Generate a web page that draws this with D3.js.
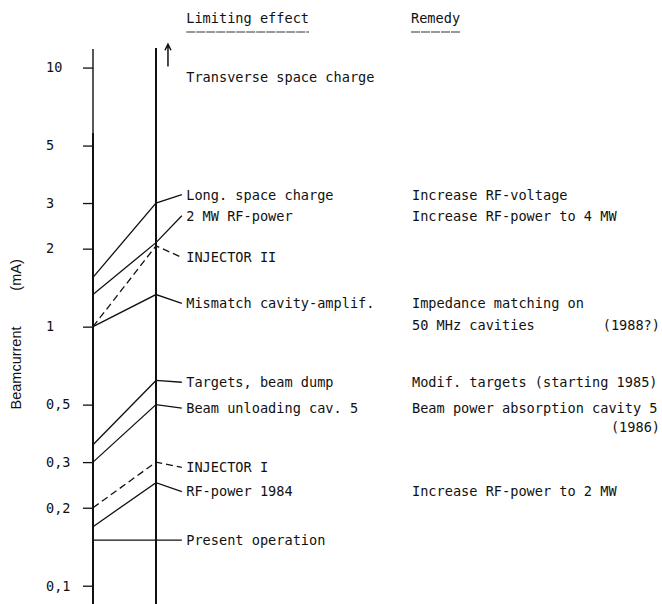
<!DOCTYPE html>
<html>
<head>
<meta charset="utf-8">
<script src="https://cdn.jsdelivr.net/npm/d3@7"></script>
<style>
  body { margin: 0; background: #fff; }
  text { fill: #111; }
</style>
</head>
<body>
<div id="chart"></div>
<script>
// limiting effects: current now (left column) -> current reached (right column)
const limits = ["Long. space charge", "2 MW RF-power", "INJECTOR II", "Mismatch cavity-amplif.",
  "Targets, beam dump", "Beam unloading cav. 5", "INJECTOR I", "RF-power 1984", "Present operation"];
const presentValues = [1.55, 1.33, 1.0, 1.0, 0.35, 0.3, 0.2, 0.169, 0.15];
const limitValues = [3.0, 2.11, 2.05, 1.33, 0.62, 0.5, 0.3, 0.25, 0.15];
const labelValues = [3.23, 2.68, 1.85, 1.23, 0.61, 0.485, 0.286, 0.231, 0.15];
const dashed = [false, false, true, false, false, false, true, false, false];

const remedies = ["Increase RF-voltage", "Increase RF-power to 4 MW", "Impedance matching on",
  "50 MHz cavities", "Modif. targets (starting 1985)", "Beam power absorption cavity 5",
  "Increase RF-power to 2 MW"];
const remedyValues = [3.23, 2.68, 1.23, 1.01, 0.61, 0.485, 0.231];
const remedyYears = ["(1988?)", "(1986)"];
const yearValues = [1.01, 0.41];

const tickValues = [0.1, 0.2, 0.3, 0.5, 1, 2, 3, 5, 10];
const tickLabels = ["0,1", "0,2", "0,3", "0,5", "1", "2", "3", "5", "10"];

const width = 662;
const height = 604;
const font = "'DejaVu Sans Mono', 'Liberation Mono', monospace";

const svg = d3.select("#chart")
  .append("svg")
  .attr("width", width)
  .attr("height", height);

const y = d3.scaleLog().domain([0.085, 11.9]).range([604, 48]);
// 0 = present operation column, 1 = limit column
const x = d3.scaleLinear().domain([0, 1]).range([93, 156]);
const labelX = x(1.48);
const remedyX = 412;

// axis with ticks
const axis = svg.append("g")
  .attr("transform", `translate(${x(0)},0)`)
  .call(d3.axisLeft(y).tickValues(tickValues).tickSize(10).tickSizeOuter(0)
    .tickFormat((d, i) => tickLabels[i]));
axis.select(".domain").remove();
axis.selectAll(".tick line").attr("stroke", "#111").attr("stroke-width", 1.3);
axis.selectAll(".tick text")
  .attr("x", -47)
  .attr("text-anchor", "start")
  .style("font-family", font)
  .style("font-size", "13.5px")
  .style("fill", "#111");

// the two vertical columns
svg.append("line")
  .attr("x1", x(0)).attr("x2", x(0))
  .attr("y1", y(11.8)).attr("y2", y(5.6))
  .attr("stroke", "#111").attr("stroke-width", 1.4);
svg.append("line")
  .attr("x1", x(0)).attr("x2", x(0))
  .attr("y1", y(5.6)).attr("y2", height)
  .attr("stroke", "#111").attr("stroke-width", 2);
svg.append("line")
  .attr("x1", x(1)).attr("x2", x(1))
  .attr("y1", y(11.9)).attr("y2", height)
  .attr("stroke", "#111").attr("stroke-width", 2);

// upward arrow for transverse space charge
const ax = x(1.19), aTop = y(12.3), aBot = y(10.1);
svg.append("path")
  .attr("d", `M${ax},${aBot}V${aTop}M${ax - 3},${aTop + 6}L${ax},${aTop}L${ax + 3},${aTop + 6}`)
  .attr("fill", "none")
  .attr("stroke", "#111")
  .attr("stroke-width", 1.5);

const line = d3.line().x(d => x(d[0])).y(d => y(d[1]));

const rows = limits.map((name, i) => ({
  name,
  pts: [[0, presentValues[i]], [1, limitValues[i]], [1.41, labelValues[i]]],
  label: labelValues[i],
  dashed: dashed[i]
}));

svg.append("g")
  .selectAll("path")
  .data(rows)
  .enter()
  .append("path")
  .attr("d", d => line(d.pts))
  .attr("fill", "none")
  .attr("stroke", "#111")
  .attr("stroke-width", 1.3)
  .attr("stroke-dasharray", d => d.dashed ? "7,4" : null);

const textStyle = sel => sel
  .style("font-family", font)
  .style("font-size", "13.6px")
  .attr("dy", "0.36em");

svg.append("g")
  .selectAll("text")
  .data(rows)
  .enter()
  .append("text")
  .attr("x", labelX)
  .attr("y", d => y(d.label))
  .text(d => d.name)
  .call(textStyle);

svg.append("text")
  .attr("x", labelX)
  .attr("y", y(9.15))
  .text("Transverse space charge")
  .call(textStyle);

svg.append("g")
  .selectAll("text")
  .data(remedies)
  .enter()
  .append("text")
  .attr("x", remedyX)
  .attr("y", (d, i) => y(remedyValues[i]))
  .text(d => d)
  .call(textStyle);

svg.append("g")
  .selectAll("text")
  .data(remedyYears)
  .enter()
  .append("text")
  .attr("x", 660)
  .attr("y", (d, i) => y(yearValues[i]))
  .attr("text-anchor", "end")
  .text(d => d)
  .call(textStyle);

// column headings, underlined
[["Limiting effect", labelX], ["Remedy", remedyX - 1]].forEach(([t, hx]) => {
  const h = svg.append("text")
    .attr("x", hx)
    .attr("y", 18)
    .text(t)
    .call(textStyle);
  const w = h.node().getComputedTextLength();
  svg.append("line")
    .attr("x1", hx).attr("x2", hx + w)
    .attr("y1", 32).attr("y2", 32)
    .attr("stroke", "#333")
    .attr("stroke-width", 1)
    .attr("stroke-dasharray", "9,1");
});

// y title
svg.append("text")
  .attr("transform", `translate(16,${368}) rotate(-90)`)
  .attr("text-anchor", "middle")
  .attr("dy", "0.35em")
  .style("font-family", "'Liberation Sans', Arial, sans-serif")
  .style("font-size", "14.5px")
  .text("Beamcurrent");
svg.append("text")
  .attr("transform", `translate(16,${275}) rotate(-90)`)
  .attr("text-anchor", "middle")
  .attr("dy", "0.35em")
  .style("font-family", "'Liberation Sans', Arial, sans-serif")
  .style("font-size", "14.5px")
  .text("(mA)");
</script>
</body>
</html>
